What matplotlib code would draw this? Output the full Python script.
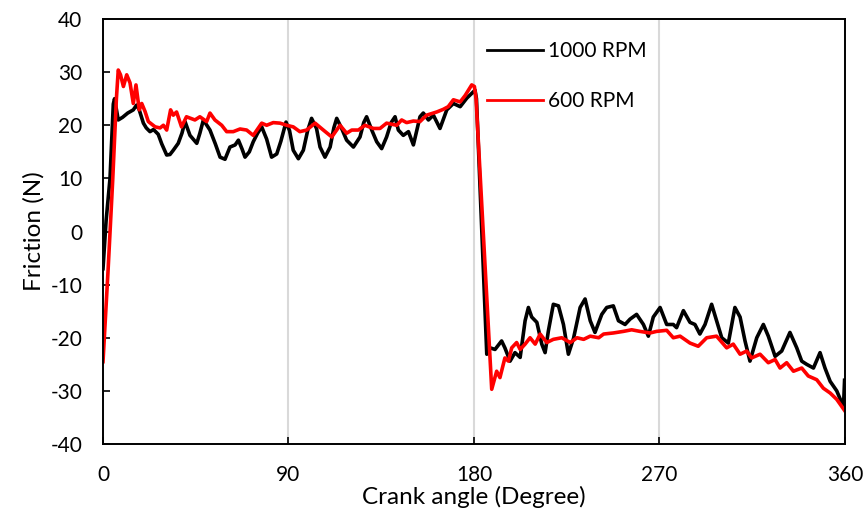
import numpy as np
import matplotlib.pyplot as plt

plt.rcParams['font.family'] = ['Lato', 'DejaVu Sans']
plt.rcParams['axes.unicode_minus'] = False

# 1000 RPM (black)
x_1000 = [0, 1.5, 3.4, 5.0, 5.6, 7.4, 9.5, 12, 14.7, 16.3, 17.5, 19.6, 21, 22.8, 24.5,
          26.8, 28.5, 30.9, 32.5, 34.1, 36.5, 38.3, 39.8, 42.2, 45.5, 47, 48.7, 51.9,
          54.5, 56.8, 59.2, 61.6, 64.1, 65.7, 67.5, 68.9, 71, 72.9, 75, 77, 79.4, 81.8,
          84.3, 86.3, 88.8, 90.5, 92.3, 94.8, 97.2, 99.3, 101.2, 103.6, 105.3, 107.7,
          110.2, 112, 113.4, 115.8, 118.2, 121.5, 124.7, 126.5, 127.9, 130.4, 132.8,
          135.2, 137.6, 139.8, 141.7, 143.3, 145.7, 148.2, 150.6, 152.5, 153.8, 155.4,
          157.9, 160.3, 163.5, 165, 166.8, 170, 173.3, 176.5, 178.9, 180.5, 181.2,
          186.2, 187.8, 190.2, 193.4, 195, 197.5, 199.9, 202.4, 204.8, 206.4, 208,
          210.5, 212.9, 214.5, 216.1, 218.5, 221, 223.4, 225.8, 228.3, 231.5, 233.9,
          236.4, 238.7, 242, 244.4, 247.6, 250.1, 253.3, 255.7, 258.9, 262.2, 264.6,
          267, 270.3, 273.5, 276.7, 278.3, 281.6, 284.8, 287.2, 289.6, 292.1, 295.3,
          297.7, 300.2, 303.4, 306.6, 309.1, 311.5, 313.9, 317.2, 320.4, 322.8, 326.1,
          329.3, 333.3, 336.6, 339, 341.4, 344.7, 347.9, 350.3, 352.8, 356, 358.4,
          359.3, 359.8]
y_1000 = [-7, 2, 10, 24, 25, 21, 21.5, 22.3, 22.9, 23.8, 23, 20.4, 19.5, 18.8, 19.2,
          18.3, 16.5, 14.4, 14.5, 15.3, 16.6, 18.5, 20.7, 18.1, 16.6, 18.5, 21, 19.1,
          16.5, 14, 13.6, 15.9, 16.3, 17.2, 15.5, 14, 15, 16.9, 18.5, 19.7, 17.4, 14,
          14.6, 17, 20.6, 19, 15.3, 13.7, 15.3, 19, 21.3, 19.4, 15.9, 14,
          15.9, 19.5, 21.3, 19.4, 17.2, 15.9, 17.8, 20.5, 21.6, 19.1, 16.9,
          15.6, 17.8, 20.5, 21.6, 19.1, 18.1, 18.8, 16.3, 19.5, 21.6, 22.3,
          21, 21.9, 19.4, 21, 22.9, 24.1, 23.5, 25.1, 26, 26.6, 25,
          -23.1, -21.9, -22.2, -20.6, -21.9, -24.4, -22.8, -23.7, -16.8, -14.3, -16.1,
          -17.1, -21.2, -22.8, -18.7, -13.7, -14, -17.5, -23.1, -20.1, -14.3, -12.7,
          -16.8, -19, -15.6, -14.3, -14, -16.8, -17.5, -16.5, -15.6, -17.5, -19.7,
          -16.1, -14.3, -17.5, -17.5, -18.1, -14.9, -17.1, -17.5, -19.3, -17.5, -13.7,
          -16.8, -20, -21, -14.3, -16.1, -20.6, -24.4, -20, -17.5, -19.7, -23.5,
          -22.5, -19, -21.9, -24.4, -25, -25.7, -22.8, -25.7, -28.2, -30, -32.2,
          -32.8, -28]

# 600 RPM (red)
x_600 = [0, 2.5, 4.7, 6.5, 7.4, 8.5, 9.9, 11.5, 13.1, 14.7, 16, 17.6, 18.8, 20.4, 22,
         25.3, 27.7, 29.3, 30.9, 32.8, 34.1, 35.7, 38.1, 40.5, 44.6, 47, 50.3, 51.9,
         54.3, 57.6, 60, 63.2, 66.5, 69.7, 72.9, 77, 79.4, 82.6, 85.9, 89.1, 92.3,
         95.5, 98.8, 102.9, 106.9, 111, 115, 118.2, 120.7, 123.9, 127.1, 131.2, 134.4,
         137.6, 142.5, 144.9, 147.3, 150.6, 153.8, 157, 161.9, 165.1, 167.5, 170,
         173.3, 175.7, 178.9, 180.2, 181, 188.6, 191, 192.6, 195, 196.7, 198.3, 200.7,
         202.4, 204.8, 207.2, 209.7, 212.1, 215.3, 218.5, 222.6, 226.7, 230, 233.2,
         236.4, 240.5, 242.9, 247.6, 252.5, 256.5, 260.5, 265.4, 268.6, 273.5, 276.7,
         280, 284.8, 288.8, 292.9, 297.7, 302.6, 305.8, 309.1, 312.3, 314.7, 318.8,
         322.8, 326.1, 328.5, 331.7, 335, 339, 342.2, 346.3, 349.5, 352.8, 356, 360]
y_600 = [-24.5, -7, 9.6, 25, 30.4, 29.5, 27.3, 29.5, 28, 24.1, 27.6, 22.9, 24.1, 22.6, 20.7,
         19.7, 19.5, 20, 19.1, 22.9, 21.9, 22.5, 19.7, 21.6, 21, 21.6, 20.7, 22.3,
         21, 20, 18.8, 18.8, 19.3, 19.1, 18.1, 20.4, 20, 20.5, 20.4, 20, 19.7,
         18.8, 19.1, 20.4, 19.1, 17.8, 20, 18.5, 19.1, 19.1, 20, 19.4, 19.4,
         20.4, 20, 21, 20.5, 20.8, 20.7, 21.9, 22.5, 23, 23.5, 24.8,
         24.4, 25.6, 27.6, 27.3, 25, -29.7, -26.3, -27.5, -23.8, -24.4, -21.9, -20.9,
         -22.2, -21.2, -20, -21.2, -19.3, -20.9, -20.3, -20, -20.9, -20, -20.3,
         -19.7, -20, -19.3, -19.1, -18.8, -18.5, -18.8, -19.1, -18.8, -18.6, -20,
         -19.7, -21, -21.6, -20, -19.7, -21.9, -21.2, -23.1, -22.5, -23.8, -23.1,
         -24.7, -24.1, -25.7, -24.7, -26.3, -25.7, -27.2, -27.9, -29.5, -30.4, -31.6, -33.8]

x_ticks = [0, 90, 180, 270, 360]
y_ticks = [-40, -30, -20, -10, 0, 10, 20, 30, 40]

fig = plt.figure(figsize=(8.67, 5.17), dpi=100)
ax = fig.add_axes([0.1188, 0.1412, 0.8558, 0.8220])

ax.plot(x_1000, y_1000, color='black', linewidth=2.6, solid_joinstyle='round',
        label='1000 RPM')
ax.plot(x_600, y_600, color='#ff0000', linewidth=2.6, solid_joinstyle='round',
        label='600 RPM')

ax.set_xlim(0, 360)
ax.set_ylim(-40, 40)
ax.set_xticks(x_ticks)
ax.set_yticks(y_ticks)
ax.grid(axis='x', color='#d9d9d9', linewidth=1.5)
ax.set_axisbelow(True)
ax.tick_params(direction='in', length=5, width=1.2, labelsize=15)
ax.tick_params(axis='y', pad=15)
ax.tick_params(axis='x', pad=15)
for s in ax.spines.values():
    s.set_linewidth(1.4)

ax.set_xlabel('Crank angle (Degree)', fontsize=17.5, labelpad=1)
ax.set_ylabel('Friction (N)', fontsize=17.5, labelpad=4)

leg = ax.legend(loc='upper left', bbox_to_anchor=(0.5175, 0.948), frameon=False,
                fontsize=15, handlelength=2.7, handletextpad=0.25, labelspacing=1.45,
                borderpad=0, borderaxespad=0)
for line in leg.get_lines():
    line.set_linewidth(2.0)

plt.savefig('out.png', dpi=100)
